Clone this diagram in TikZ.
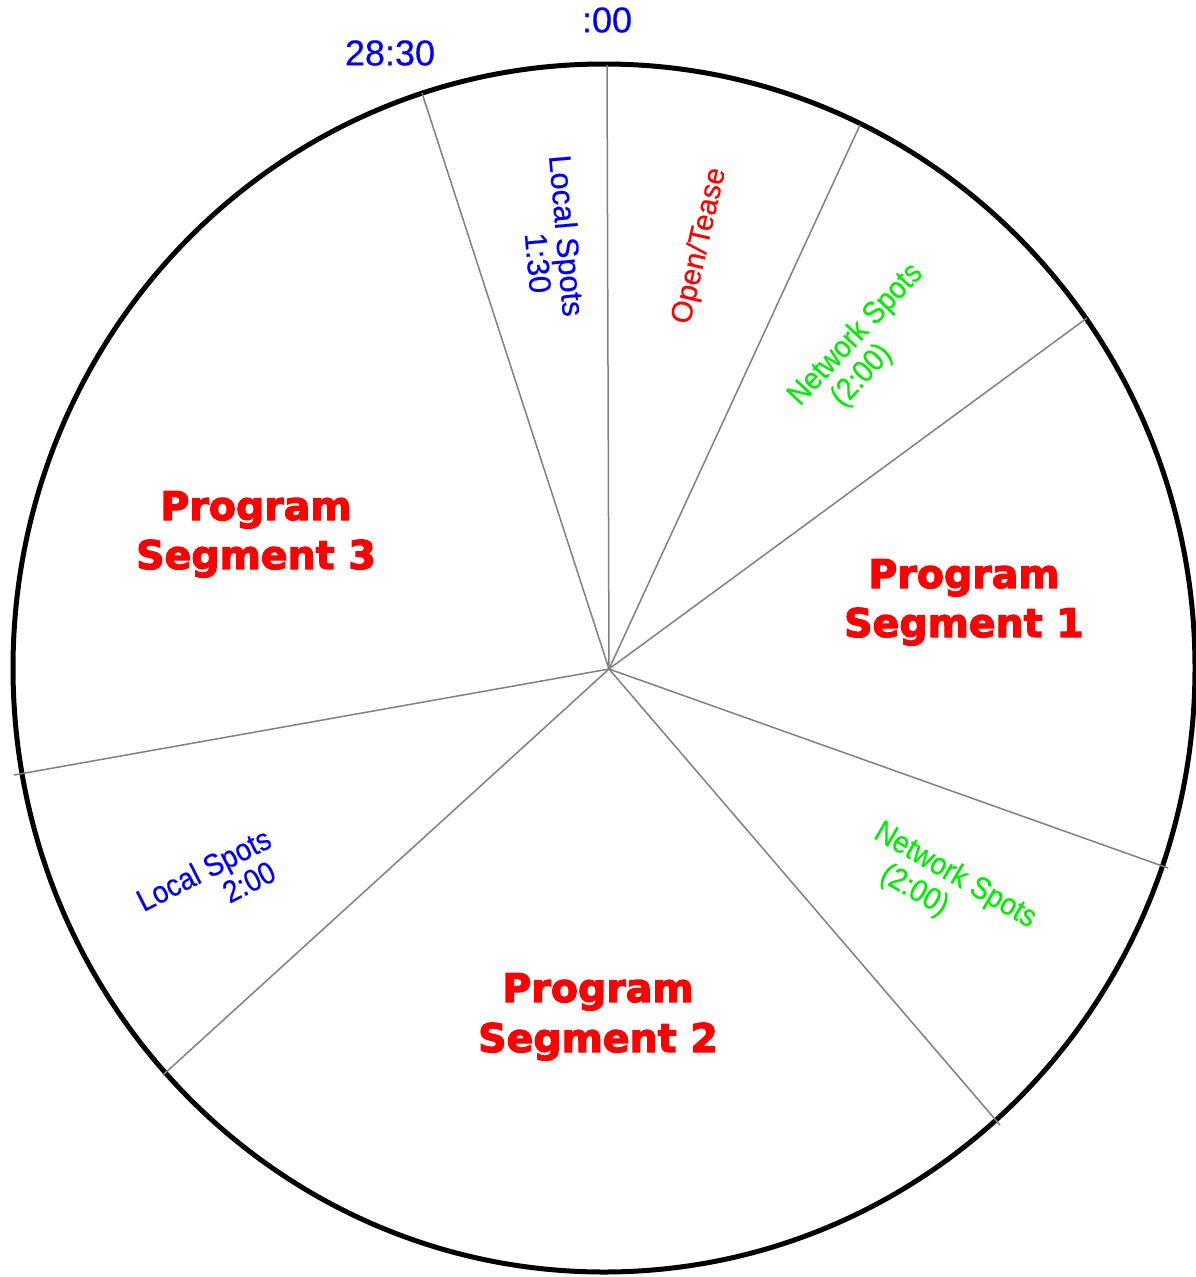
\documentclass[tikz,border=0pt]{standalone}
\usepackage{fontspec}
\setmainfont{Liberation Sans}
\newfontfamily\boldfont{DejaVu Sans}[UprightFont=*-Bold, FakeBold=3]
\newfontfamily\narrowfont{Liberation Sans}[FakeStretch=0.9, FakeBold=0.4]
\newfontfamily\plainfont{Liberation Sans}[FakeBold=0.4]
\definecolor{lblue}{RGB}{0,0,255}
\definecolor{lred}{RGB}{255,0,0}
\definecolor{lgreen}{RGB}{0,238,0}
\definecolor{rgray}{RGB}{128,128,128}
\tikzset{
  radial/.style={draw=rgray, line width=1.5pt},
  rim/.style={draw=black, line width=5pt},
  timelbl/.style={inner sep=0pt, text=lblue, font=\plainfont\fontsize{36}{36}\selectfont},
  seglbl/.style={inner sep=0pt, text=lred, anchor=base, font=\boldfont\fontsize{39.5}{48}\selectfont},
  smalllbl/.style={inner sep=0pt, font=\plainfont\fontsize{31}{31}\selectfont},
  narrowlbl/.style={inner sep=0pt, font=\narrowfont\fontsize{31}{31}\selectfont},
}
\begin{document}
\begin{tikzpicture}[x=1pt,y=-1pt]
\path[fill=white] (0,0) rectangle (1196,1277);
\useasboundingbox (0,0) rectangle (1196,1277);
% rim
\draw[rim] (604,668) ellipse [x radius=591pt, y radius=604pt];
% centre and rim points
\coordinate (c) at (609,669);
\coordinate (p00) at (607,65);
\coordinate (p1) at (860,125);
\coordinate (p2) at (1087,318);
\coordinate (p3) at (1168,868);
\coordinate (p4) at (1000,1125);
\coordinate (p5) at (163,1075);
\coordinate (p6) at (14,775);
\coordinate (p7) at (422,93);
\foreach \p in {p00,p1,p2,p3,p4,p5,p6,p7} \draw[radial] (c) -- (\p);
% time labels
\node[timelbl] (t00) at (607,20) {:00};
\node[timelbl] (t2830) at (390,53) {28:30};
% small labels
\node[smalllbl, text=lblue, rotate=-85] (ls1a) at (564,236) {Local Spots};
\node[smalllbl, text=lblue, rotate=-85] (ls1b) at (538,263) {1:30};
\node[smalllbl, text=lred, rotate=77, font=\plainfont\fontsize{29.5}{29.5}\selectfont] (open) at (700,246) {Open/Tease};
\node[narrowlbl, text=lgreen, rotate=47] (ns1a) at (856,335) {Network Spots};
\node[narrowlbl, text=lgreen, rotate=47] (ns1b) at (862,376) {(2:00)};
\node[narrowlbl, text=lgreen, rotate=-30] (ns2a) at (955,876) {Network Spots};
\node[narrowlbl, text=lgreen, rotate=-30] (ns2b) at (914,891) {(2:00)};
\node[narrowlbl, text=lblue, rotate=27] (ls2a) at (205,872) {Local Spots};
\node[narrowlbl, text=lblue, rotate=27] (ls2b) at (249,882) {2:00};
% program segments
\node[seglbl] (ps1a) at (964,588) {Program};
\node[seglbl] (ps1b) at (964,637) {Segment 1};
\node[seglbl] (ps2a) at (598,1002) {Program};
\node[seglbl] (ps2b) at (598,1052) {Segment 2};
\node[seglbl] (ps3a) at (256,520) {Program};
\node[seglbl] (ps3b) at (256,569) {Segment 3};
\end{tikzpicture}
\end{document}
